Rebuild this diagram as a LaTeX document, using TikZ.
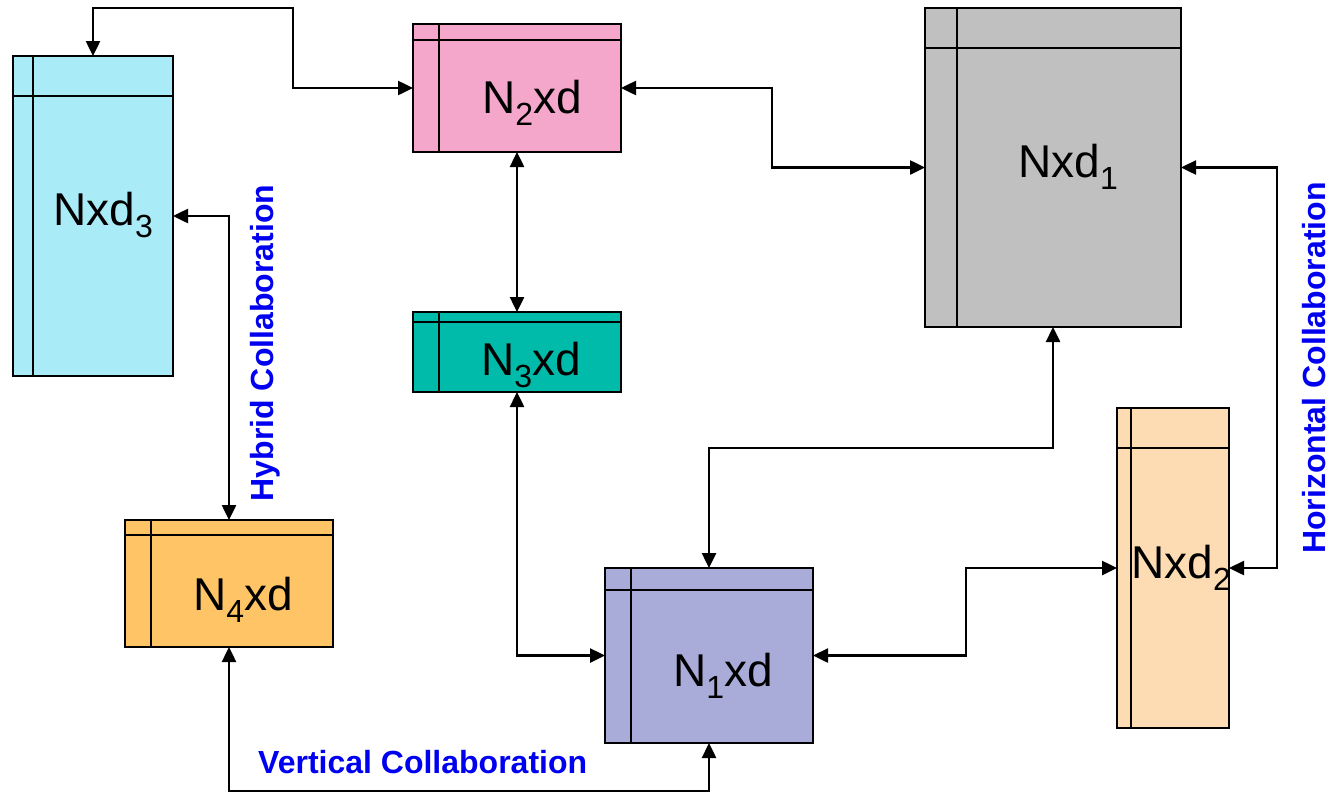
\documentclass[tikz,border=0pt]{standalone}
\usepackage{fontspec}
\setmainfont{Liberation Sans}
\usetikzlibrary{arrows.meta}
\definecolor{ccyan}{HTML}{A9ECF8}
\definecolor{cpink}{HTML}{F4A6CB}
\definecolor{cteal}{HTML}{00BBA9}
\definecolor{cgray}{HTML}{C0C0C0}
\definecolor{cpeach}{HTML}{FDDCB4}
\definecolor{corange}{HTML}{FFC466}
\definecolor{clav}{HTML}{A9ABD8}
\definecolor{cblue}{HTML}{0000F0}
\newcommand\mysub[1]{\raisebox{-12pt}{\fontsize{32}{32}\selectfont #1}}
\tikzset{
  mbox/.style 2 args={draw, line width=2.7pt, inner sep=0pt, outer sep=0pt,
    path picture={
      \draw[line width=2.7pt] ([xshift=#1]path picture bounding box.north west) -- ([xshift=#1]path picture bounding box.south west);
      \draw[line width=2.7pt] ([yshift=-#2]path picture bounding box.north west) -- ([yshift=-#2]path picture bounding box.north east);
    }},
  mlabel/.style={anchor=base west, inner sep=0pt, font=\fontsize{46}{50}\selectfont},
  collab/.style={inner sep=0pt, text=cblue, font=\bfseries\fontsize{32}{36}\selectfont},
  conn/.style={line width=2.5pt, {Triangle[length=15pt,width=14pt]}-{Triangle[length=15pt,width=14pt]}}
}
\begin{document}
\begin{tikzpicture}[x=1pt,y=-1pt]
\useasboundingbox (0,0) rectangle (1332,793);
% boxes
\node[mbox={20pt}{40pt}, fill=ccyan, minimum width=160pt, minimum height=320pt] (nxd3) at (93,216) {};
\node[mbox={26pt}{16pt}, fill=cpink, minimum width=208pt, minimum height=128pt] (n2) at (517,88) {};
\node[mbox={26pt}{10pt}, fill=cteal, minimum width=208pt, minimum height=80pt] (n3) at (517,352) {};
\node[mbox={32pt}{40pt}, fill=cgray, minimum width=256pt, minimum height=319pt] (nxd1) at (1053,167.5) {};
\node[mbox={14pt}{40pt}, fill=cpeach, minimum width=112pt, minimum height=320pt] (nxd2) at (1173,568) {};
\node[mbox={26pt}{15pt}, fill=corange, minimum width=208pt, minimum height=127pt] (n4) at (229,583.5) {};
\node[mbox={26pt}{22pt}, fill=clav, minimum width=208pt, minimum height=175pt] (n1) at (709,655.5) {};
% box labels
\node[mlabel] (lnxd3) at (53,225) {Nxd\mysub{3}};
\node[mlabel] (ln2) at (482,113) {N\mysub{2}xd};
\node[mlabel] (ln3) at (481,375) {N\mysub{3}xd};
\node[mlabel] (lnxd1) at (1018,177) {Nxd\mysub{1}};
\node[mlabel] (lnxd2) at (1131,578) {Nxd\mysub{2}};
\node[mlabel] (ln4) at (193,610) {N\mysub{4}xd};
\node[mlabel] (ln1) at (673,686) {N\mysub{1}xd};
% collaboration labels
\node[collab, rotate=90] (hyb) at (265,343) {Hybrid Collaboration};
\node[collab, rotate=90] (hor) at (1314,368) {Horizontal Collaboration};
\node[collab, anchor=base west] (ver) at (258,773) {Vertical Collaboration};
% connectors
\draw[conn] (n2.west) -| (293,8) -| (nxd3.north);
\draw[conn] (n2.east) -| (772,167.5) -- (nxd1.west);
\draw[conn] (n2.south) -- (n3.north);
\draw[conn] (n3.south) |- (n1.west);
\draw[conn] (nxd1.south) -- (1053,448) -| (n1.north);
\draw[conn] (n1.east) -| (966,568) -- (nxd2.west);
\draw[conn] (nxd1.east) -| (1277,568) -- (nxd2.east);
\draw[conn] (nxd3.east) -| (n4.north);
\draw[conn] (n4.south) |- (709,791) -- (n1.south);
\end{tikzpicture}
\end{document}
